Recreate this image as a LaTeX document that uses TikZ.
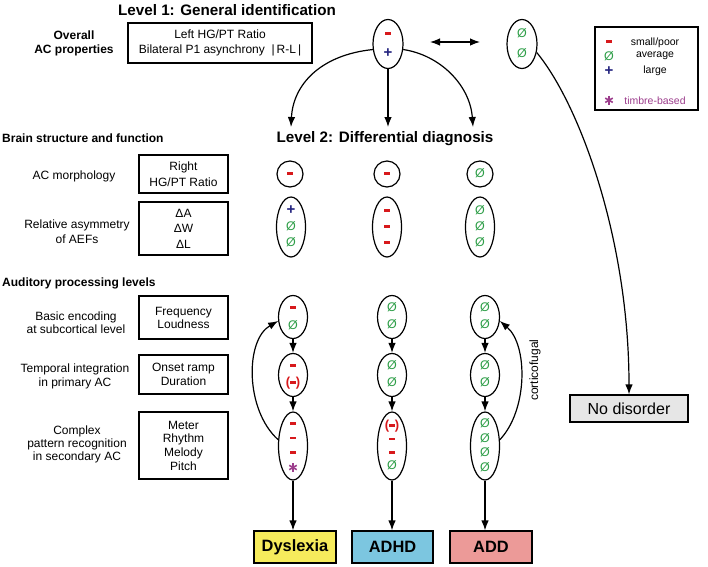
\documentclass[tikz,border=0pt]{standalone}
\usepackage{fontspec}
\setmainfont{Liberation Sans}
\usetikzlibrary{shapes.geometric,arrows.meta}
\definecolor{cred}{HTML}{D7191C}
\definecolor{cgreen}{HTML}{2E9E48}
\definecolor{cnavy}{HTML}{23237E}
\definecolor{cpurple}{HTML}{9C3D8C}
\definecolor{cyel}{HTML}{F6EB5C}
\definecolor{cblue}{HTML}{7CC6E0}
\definecolor{cpink}{HTML}{EC9A98}
\definecolor{cgray}{HTML}{E6E6E6}
\newcommand\stt{\rule[-2.5pt]{0pt}{11.5pt}}
\newcommand\smi{\stt{\color{cred}\rule[2.6pt]{5.5pt}{2.6pt}}}
\newcommand\spl{\stt{\color{cnavy}\fontsize{15}{15}\selectfont\bfseries +}}
\newcommand\sav{\stt{\color{cgreen}\fontsize{12.5}{13}\selectfont Ø}}
\newcommand\spm{\stt{\color{cred}\fontsize{13}{13}\selectfont\bfseries(\rule[2.6pt]{5.5pt}{2.6pt})}}
\newcommand\sast{\stt\tikz[baseline=-3.5pt,x=1pt,y=1pt]{\foreach \a in {90,30,-30}{\draw[line width=1.6pt,cpurple] (\a:4.3)--(\a+180:4.3);}}}
\begin{document}
\begin{tikzpicture}[x=1pt,y=-1pt,
  ell/.style={draw,ellipse,line width=1.2pt,inner sep=0pt},
  sym/.style={align=center,inner sep=0pt,font=\fontsize{11}{#1}\selectfont},
  lbox/.style={draw,line width=1.2pt,inner sep=0pt,align=center,font=\fontsize{12}{#1}\selectfont},
  lab/.style={align=center,font=\fontsize{12}{#1}\selectfont},
  sec/.style={anchor=west,inner sep=0pt,font=\fontsize{12}{14}\selectfont\bfseries},
  ttl/.style={inner sep=0pt,font=\fontsize{15.2}{17}\selectfont\bfseries},
  leg/.style={inner sep=0pt,font=\fontsize{10.5}{12}\selectfont},
  arr/.style={line width=1.2pt,-{Latex[length=10pt,width=7.5pt]}},
  dbox/.style={draw,line width=1.2pt,minimum width=82pt,minimum height=32pt,inner sep=0pt,font=\fontsize{16.4}{18}\selectfont\bfseries}]
\useasboundingbox (0,0) rectangle (708,566);

% titles
\node[ttl] (t1) at (227,10) {Level 1: General identification};
\node[ttl] (t2) at (385,139) {Level 2: Differential diagnosis};
\node[sec] (s1) at (2,138) {Brain structure and function};
\node[sec] (s2) at (2,283) {Auditory processing levels};

% left labels
\node[lab=14,font=\fontsize{12}{14}\selectfont\bfseries] (l0) at (74,43) {Overall\\AC properties};
\node[lab=14] (l1) at (74,176) {AC morphology};
\node[lab=15] (l2) at (77,231.5) {Relative asymmetry\\of AEFs};
\node[lab=13] (l3) at (76,322.5) {Basic encoding\\at subcortical level};
\node[lab=14] (l4) at (75,376) {Temporal integration\\in primary AC};
\node[lab=13] (l5) at (77,444.5) {Complex\\pattern recognition\\in secondary AC};

% boxes
\node[lbox=15,minimum width=184pt,minimum height=40pt] (ovb) at (220,43) {Left HG/PT Ratio\\Bilateral P1 asynchrony \;|\,R-L\,|};
\node[lbox=16,minimum width=89pt,minimum height=38pt] (morb) at (183.5,174) {Right\\HG/PT Ratio};
\node[lbox=15.5,minimum width=89pt,minimum height=53pt] (asyb) at (183.5,228.5) {ΔA\\ΔW\\ΔL};
\node[lbox=13,minimum width=89pt,minimum height=43pt] (frb) at (183.5,317.5) {Frequency\\Loudness};
\node[lbox=14,minimum width=89pt,minimum height=39pt] (onb) at (183.5,374.5) {Onset ramp\\Duration};
\node[lbox=13.7,minimum width=89pt,minimum height=67pt] (meb) at (183.5,445.5) {Meter\\Rhythm\\Melody\\Pitch};

% level 1 ellipses
\node[ell,minimum width=30pt,minimum height=49pt] (e0a) at (388,44) {};
\node[sym=20] (e0as) at (e0a) {\smi\\\spl};
\node[ell,minimum width=30pt,minimum height=49pt] (e0b) at (522,44) {};
\node[sym=20] (e0bs) at (e0b) {\sav\\\sav};
\coordinate (da1) at (430,42);
\coordinate (da2) at (480,42);
\draw[line width=1.2pt,{Latex[length=10pt,width=7.5pt]}-{Latex[length=10pt,width=7.5pt]}] (da1) -- (da2);

% legend
\node[draw,line width=1.2pt,minimum width=103pt,minimum height=83pt,inner sep=0pt] (leg) at (646.5,68.5) {};
\node[sym=12] (g1s) at (609,42) {\smi};
\node[sym=12] (g2s) at (609,57) {\sav};
\node[sym=12] (g3s) at (609,72) {\spl};
\node[sym=12] (g4s) at (609,100.5) {\sast};
\node[leg] (g1) at (655,43) {small/poor};
\node[leg] (g2) at (655,56) {average};
\node[leg] (g3) at (655,70.5) {large};
\node[leg,text=cpurple] (g4) at (655,100.5) {timbre-based};

% arrows level 1 -> level 2
\coordinate (ta) at (291,127);
\coordinate (tb) at (388,127);
\coordinate (tc) at (473,127);
\draw[arr] (e0a.200) .. controls (320,55) and (293,85) .. (ta);
\draw[arr] (e0a.south) -- (tb);
\draw[arr] (e0a.-20) .. controls (440,55) and (470,85) .. (tc);

% no disorder
\node[draw,line width=1.2pt,fill=cgray,minimum width=118pt,minimum height=27pt,inner sep=0pt,font=\fontsize{16}{18}\selectfont] (nod) at (629,408.5) {No disorder};
\draw[arr] (e0b.-30) .. controls (580,105) and (629,240) .. (nod.north);

% level 2 morphology
\node[ell,minimum width=26pt,minimum height=26pt] (ma) at (290,174) {};
\node[sym=12] (mas) at (ma) {\smi};
\node[ell,minimum width=26pt,minimum height=26pt] (mb) at (387,174) {};
\node[sym=12] (mbs) at (mb) {\smi};
\node[ell,minimum width=26pt,minimum height=26pt] (mc) at (480,174) {};
\node[sym=12] (mcs) at (mc) {\sav};

% asymmetry
\node[ell,minimum width=29pt,minimum height=60pt] (aa) at (291,227) {};
\node[sym=16] (aas) at (aa) {\spl\\\sav\\\sav};
\node[ell,minimum width=29pt,minimum height=60pt] (ab) at (387,227) {};
\node[sym=16] (abs) at (ab) {\smi\\\smi\\\smi};
\node[ell,minimum width=29pt,minimum height=60pt] (ac) at (480,227) {};
\node[sym=16] (acs) at (ac) {\sav\\\sav\\\sav};

% processing levels, column 1
\node[ell,minimum width=29pt,minimum height=43pt] (e1a) at (293,317) {};
\node[sym=18] (e1as) at (e1a) {\smi\\\sav};
\node[ell,minimum width=29pt,minimum height=43pt] (e2a) at (293,375) {};
\node[sym=17] (e2as) at (e2a) {\smi\\\spm};
\node[ell,minimum width=29pt,minimum height=68pt] (e3a) at (293,446) {};
\node[sym=14.5] (e3as) at (e3a) {\smi\\\smi\\\smi\\\sast};
% column 2
\node[ell,minimum width=29pt,minimum height=43pt] (e1b) at (392,317) {};
\node[sym=17] (e1bs) at (e1b) {\sav\\\sav};
\node[ell,minimum width=29pt,minimum height=43pt] (e2b) at (392,375) {};
\node[sym=17] (e2bs) at (e2b) {\sav\\\sav};
\node[ell,minimum width=29pt,minimum height=68pt] (e3b) at (392,446) {};
\node[sym=13.5] (e3bs) at (e3b) {\spm\\\smi\\\smi\\\sav};
% column 3
\node[ell,minimum width=29pt,minimum height=43pt] (e1c) at (485,317) {};
\node[sym=17] (e1cs) at (e1c) {\sav\\\sav};
\node[ell,minimum width=29pt,minimum height=43pt] (e2c) at (485,375) {};
\node[sym=17] (e2cs) at (e2c) {\sav\\\sav};
\node[ell,minimum width=29pt,minimum height=68pt] (e3c) at (485,446) {};
\node[sym=14.5] (e3cs) at (e3c) {\sav\\\sav\\\sav\\\sav};

\foreach \c in {a,b,c}{
  \draw[arr] (e1\c.south) -- (e2\c.north);
  \draw[arr] (e2\c.south) -- (e3\c.north);
}

% feedback arcs
\draw[arr] (e3a.157) .. controls (245,410) and (245,340) .. (e1a.195);
\draw[arr] (e3c.23) .. controls (528,410) and (528,345) .. (e1c.-15);
\node[rotate=90,inner sep=0pt,font=\fontsize{12}{14}\selectfont] (cf) at (535,370) {corticofugal};

% diagnosis boxes
\node[dbox,fill=cyel] (dys) at (295,547) {Dyslexia};
\node[dbox,fill=cblue,minimum width=81pt] (adhd) at (392.5,547) {ADHD};
\node[dbox,fill=cpink] (add) at (491,547) {ADD};
\draw[arr] (e3a.south) -- (e3a.south |- dys.north);
\draw[arr] (e3b.south) -- (e3b.south |- adhd.north);
\draw[arr] (e3c.south) -- (e3c.south |- add.north);
\end{tikzpicture}
\end{document}
